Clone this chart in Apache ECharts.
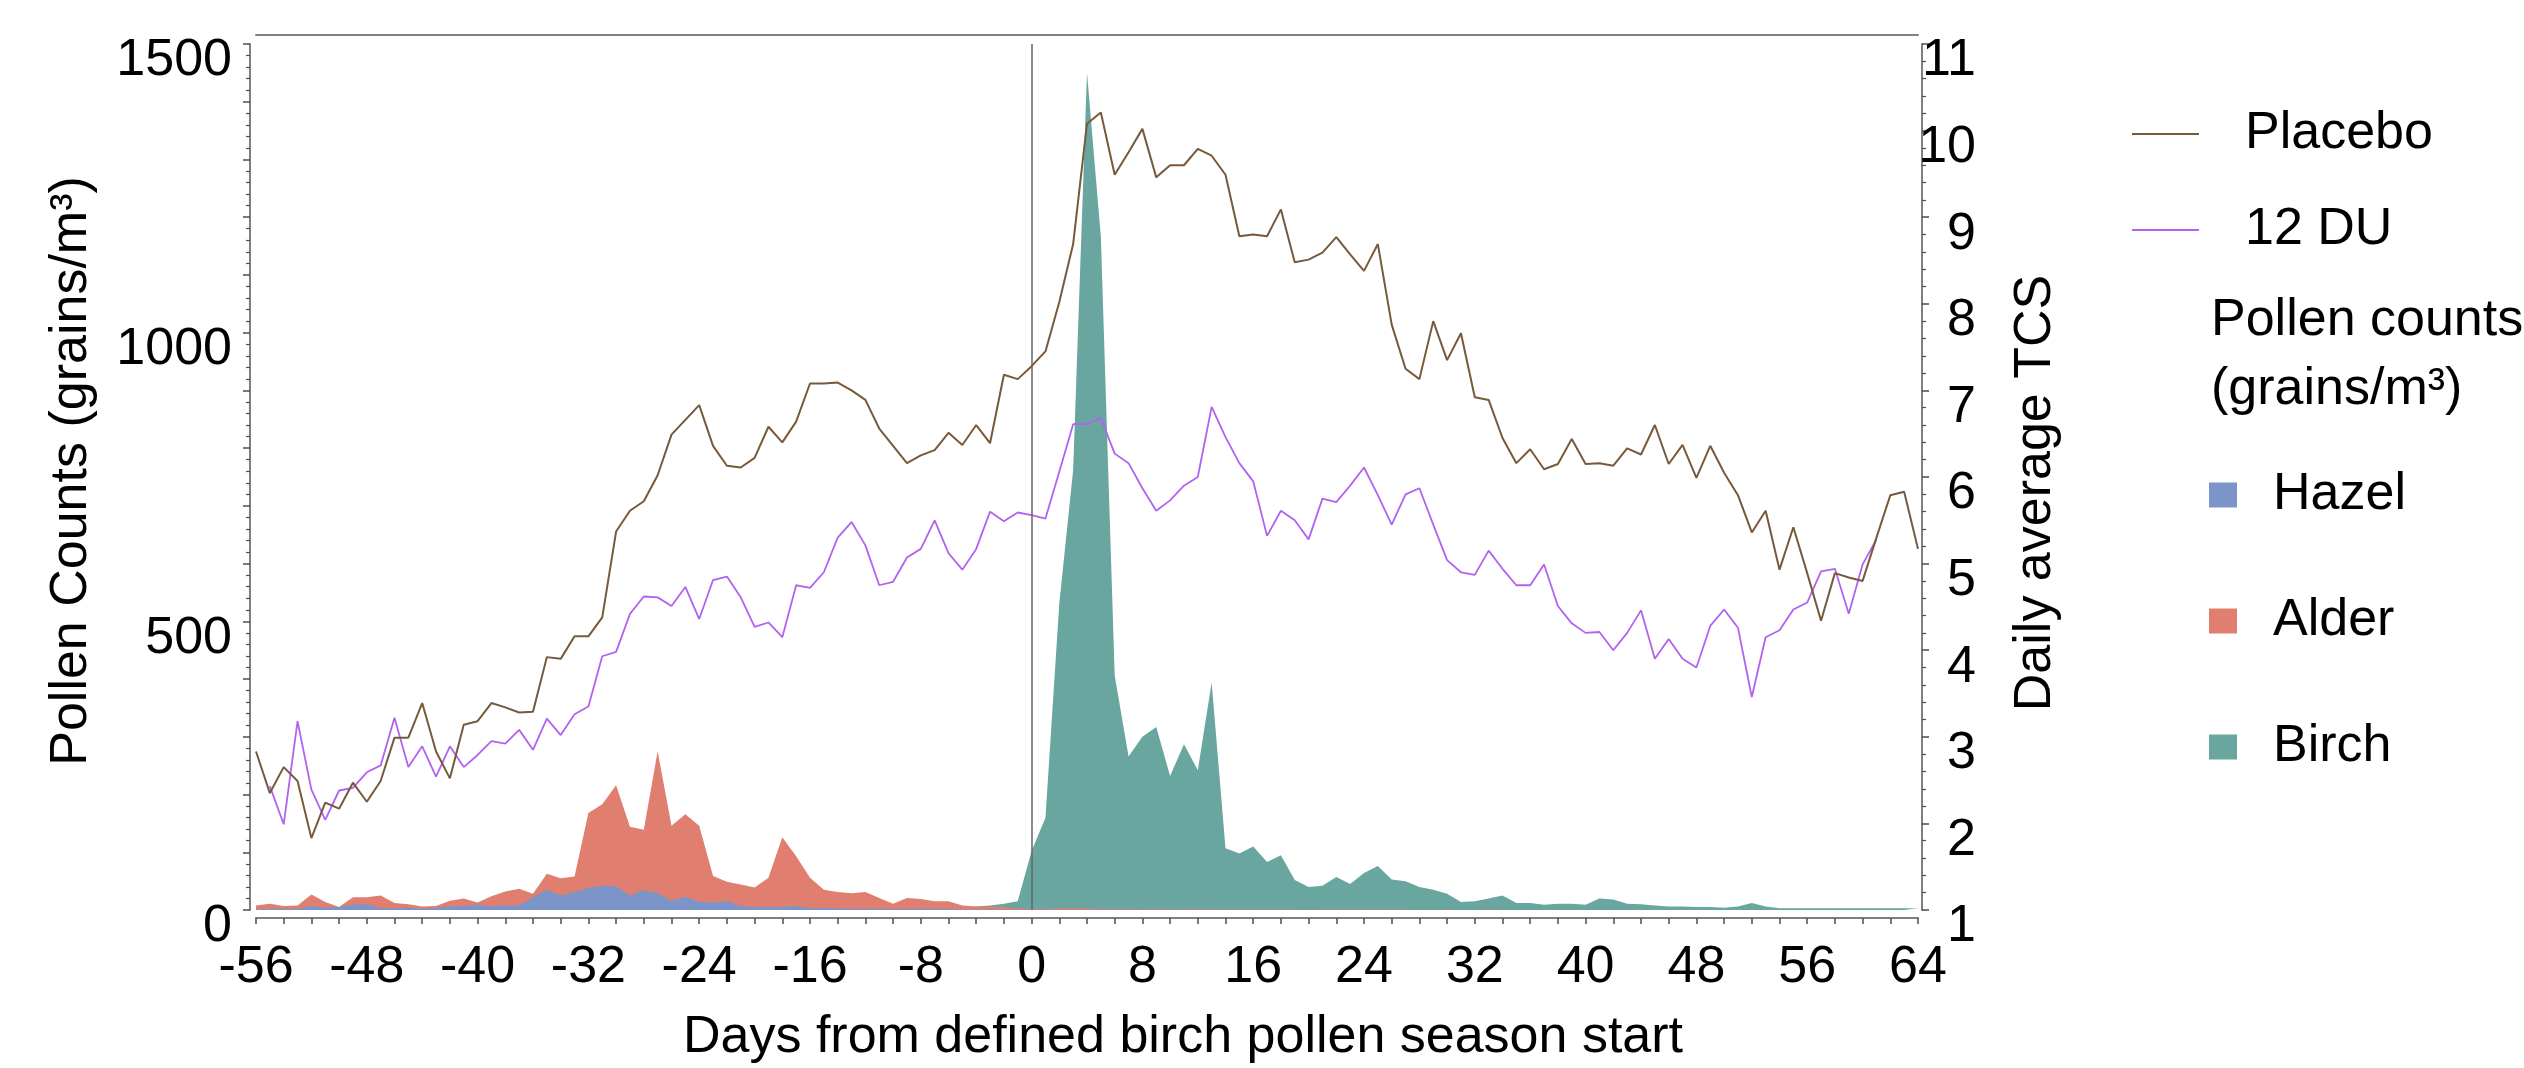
<!DOCTYPE html>
<html lang="en">
<head>
<meta charset="UTF-8">
<title>Pollen counts and daily average TCS</title>
<script src="https://cdn.jsdelivr.net/npm/echarts@6.0.0/dist/echarts.min.js"></script>
<style>
    body { margin: 0; background: #fff; }
    #chart { width: 2524px; height: 1068px; }
</style>
</head>
<body>
<div id="chart"></div>
<script>
    // day -56 is the first value of every array, one value per day up to day 64
    var firstDay = -56;

    // daily average TCS (right axis)
    var placebo = [
        2.83, 2.35, 2.65, 2.49, 1.83, 2.24, 2.17, 2.47, 2.25, 2.49,
        2.99, 2.99, 3.39, 2.83, 2.52, 3.14, 3.18, 3.39, 3.34, 3.28,
        3.29, 3.92, 3.90, 4.16, 4.16, 4.38, 5.37, 5.61, 5.72, 6.02,
        6.49, 6.66, 6.83, 6.36, 6.13, 6.11, 6.22, 6.58, 6.40, 6.64,
        7.08, 7.08, 7.09, 7.00, 6.89, 6.56, 6.36, 6.16, 6.25, 6.31,
        6.51, 6.37, 6.60, 6.39, 7.18, 7.13, 7.28, 7.45, 8.02, 8.69,
        10.08, 10.21, 9.49, 9.75, 10.02, 9.46, 9.60, 9.60, 9.79, 9.71,
        9.49, 8.78, 8.80, 8.78, 9.09, 8.48, 8.51, 8.59, 8.77, 8.57,
        8.38, 8.69, 7.76, 7.25, 7.13, 7.80, 7.35, 7.66, 6.92, 6.89,
        6.45, 6.16, 6.32, 6.09, 6.15, 6.44, 6.15, 6.16, 6.13, 6.33,
        6.26, 6.60, 6.15, 6.37, 5.99, 6.36, 6.05, 5.79, 5.36, 5.61,
        4.93, 5.42, 4.89, 4.34, 4.89, 4.84, 4.80, 5.30, 5.79, 5.83,
        5.17
    ];
    var du12 = [
        null, 2.43, 1.99, 3.18, 2.39, 2.04, 2.38, 2.41, 2.59, 2.67,
        3.22, 2.65, 2.89, 2.54, 2.89, 2.65, 2.79, 2.95, 2.92, 3.08,
        2.85, 3.21, 3.02, 3.26, 3.35, 3.93, 3.98, 4.42, 4.62, 4.61,
        4.51, 4.73, 4.36, 4.81, 4.85, 4.61, 4.27, 4.32, 4.15, 4.75,
        4.72, 4.90, 5.30, 5.48, 5.21, 4.75, 4.79, 5.07, 5.17, 5.50,
        5.12, 4.93, 5.17, 5.60, 5.49, 5.59, 5.56, 5.52, 6.06, 6.61,
        6.61, 6.68, 6.27, 6.16, 5.87, 5.61, 5.73, 5.90, 6.00, 6.81,
        6.46, 6.16, 5.95, 5.32, 5.61, 5.50, 5.28, 5.75, 5.71, 5.90,
        6.11, 5.79, 5.45, 5.80, 5.87, 5.45, 5.04, 4.90, 4.87, 5.15,
        4.94, 4.75, 4.75, 4.99, 4.51, 4.31, 4.20, 4.21, 4.00, 4.20,
        4.46, 3.90, 4.13, 3.90, 3.80, 4.28, 4.47, 4.26, 3.46, 4.15,
        4.23, 4.47, 4.55, 4.91, 4.94, 4.42, 4.99, 5.28, null, null,
        null
    ];

    // pollen counts, grains/m3 (left axis)
    var hazel = [
        1, 2, 2, 2, 7, 4, 5, 9, 10, 3,
        3, 4, 2, 4, 6, 7, 9, 6, 8, 8,
        22, 35, 25, 31, 38, 42, 41, 25, 34, 29,
        16, 23, 14, 13, 15, 7, 5, 5, 5, 7,
        3, 3, 3, 2, 2, 2, 2, 2, 2, 2,
        2, 1, 1, 1, 1, 1, 1, 1, 1, 1,
        1, 1, 1, 1, 0, 1, 0, 0, 1, 0,
        0, 0, 0, 0, 0, 0, 0, 0, 0, 0,
        0, 0, 0, 0, 0, 0, 0, 0, 0, 0,
        0, 0, 0, 0, 0, 0, 0, 0, 0, 0,
        0, 0, 0, 0, 0, 0, 0, 0, 0, 0,
        0, 0, 0, 0, 0, 0, 0, 0, 0, 0,
        0
    ];
    var alder = [
        8, 11, 7, 8, 27, 14, 5, 22, 22, 25,
        12, 10, 6, 7, 16, 20, 13, 24, 32, 37,
        28, 63, 55, 58, 168, 183, 216, 144, 139, 275,
        146, 166, 146, 59, 49, 44, 39, 56, 126, 93,
        56, 35, 31, 29, 31, 21, 11, 21, 19, 15,
        15, 8, 6, 6, 5, 3, 2, 2, 3, 4,
        3, 2, 2, 2, 1, 2, 1, 1, 2, 1,
        1, 1, 1, 1, 1, 1, 0, 1, 1, 1,
        1, 1, 1, 1, 0, 0, 1, 0, 0, 1,
        0, 0, 0, 0, 0, 0, 0, 0, 0, 0,
        0, 0, 0, 0, 0, 0, 0, 0, 0, 0,
        0, 0, 0, 0, 0, 0, 0, 0, 0, 0,
        0
    ];
    var birch = [
        0, 0, 0, 0, 0, 0, 0, 0, 0, 0,
        0, 0, 0, 0, 0, 0, 0, 0, 0, 0,
        0, 0, 0, 0, 0, 0, 0, 0, 0, 0,
        0, 0, 0, 0, 0, 0, 0, 0, 0, 0,
        0, 0, 0, 0, 0, 0, 0, 0, 0, 0,
        1, 3, 6, 8, 11, 15, 102, 160, 531, 762,
        1450, 1166, 406, 266, 300, 317, 232, 287, 242, 394,
        107, 98, 110, 83, 95, 52, 40, 42, 57, 45,
        64, 76, 53, 50, 40, 35, 28, 14, 15, 20,
        25, 12, 12, 9, 11, 11, 9, 20, 18, 11,
        10, 8, 6, 6, 5, 5, 4, 6, 12, 6,
        3, 3, 3, 3, 3, 3, 3, 3, 3, 3,
        3
    ];

    var font = "'Liberation Sans', Arial, sans-serif";
    var axisGray = '#808080';
    var tickGray = '#4d4d4d';

    function byDay(arr) {
        return arr.map(function (v, i) { return [firstDay + i, v]; });
    }

    function pollenArea(name, color, data, z) {
        return {
            name: name,
            type: 'line',
            xAxisIndex: 0,
            yAxisIndex: 0,
            data: byDay(data),
            symbol: 'none',
            color: color,
            lineStyle: { width: 0 },
            areaStyle: { color: color, opacity: 1 },
            z: z
        };
    }

    var chart = echarts.init(document.getElementById('chart'));

    var series = [
        pollenArea('Birch', '#68a69f', birch, 1),
        pollenArea('Alder', '#e07e6f', alder, 2),
        pollenArea('Hazel', '#7c95c9', hazel, 3),
        {
            name: '12 DU',
            type: 'line',
            xAxisIndex: 0,
            yAxisIndex: 1,
            data: byDay(du12),
            symbol: 'none',
            color: '#b163ef',
            lineStyle: { width: 1.8, color: '#b163ef' },
            z: 4
        },
        {
            name: 'Placebo',
            type: 'line',
            xAxisIndex: 0,
            yAxisIndex: 1,
            data: byDay(placebo),
            symbol: 'none',
            color: '#765a3b',
            lineStyle: { width: 2, color: '#765a3b' },
            z: 5
        }
    ];
    // season start marker
    series[0].markLine = {
        silent: true,
        symbol: 'none',
        label: { show: false },
        lineStyle: { color: '#666', width: 1.5, type: 'solid' },
        data: [{ xAxis: 0 }]
    };

    var option = {
        animation: false,
        backgroundColor: '#fff',
        textStyle: { fontFamily: font },
        grid: { left: 256, right: 606, top: 44, bottom: 158, outerBoundsMode: 'none' },
        title: {
            text: 'Pollen counts\n(grains/m³)',
            left: 2211,
            top: 286,
            padding: 0,
            textStyle: { fontFamily: font, fontSize: 52, fontWeight: 'normal', lineHeight: 69, color: '#000' }
        },
        legend: [
            {
                data: [{ name: 'Placebo', icon: 'rect' }, { name: '12 DU', icon: 'rect' }],
                orient: 'vertical',
                left: 2132,
                top: 104,
                padding: 0,
                itemWidth: 67,
                itemHeight: 2,
                itemGap: 36,
                textStyle: { fontFamily: font, fontSize: 52, lineHeight: 60, color: '#000', padding: [0, 0, 0, 41] }
            },
            {
                data: [{ name: 'Hazel', icon: 'rect' }, { name: 'Alder', icon: 'rect' }, { name: 'Birch', icon: 'rect' }],
                orient: 'vertical',
                left: 2209,
                top: 465,
                padding: 0,
                itemWidth: 28,
                itemHeight: 25,
                itemGap: 66,
                textStyle: { fontFamily: font, fontSize: 52, lineHeight: 60, color: '#000', padding: [0, 0, 0, 31] }
            }
        ],
        xAxis: [
            {
                type: 'value',
                min: -56,
                max: 64,
                interval: 2,
                offset: 8,
                axisLine: { onZero: false, lineStyle: { color: axisGray, width: 2 } },
                axisTick: { length: 6, lineStyle: { color: tickGray, width: 1.5 } },
                axisLabel: {
                    margin: 24,
                    fontSize: 52,
                    lineHeight: 52,
                    color: '#000',
                    formatter: function (v) { return v % 8 === 0 ? String(v) : ''; }
                },
                splitLine: { show: false },
                name: 'Days from defined birch pollen season start',
                nameLocation: 'middle',
                nameGap: 94,
                nameMoveOverlap: false,
                nameTextStyle: { fontSize: 52, lineHeight: 52, color: '#000', padding: [0, 0, 0, 192] }
            },
            {
                // top edge of the frame
                type: 'value',
                position: 'top',
                min: -56,
                max: 64,
                offset: 9,
                axisLine: { onZero: false, lineStyle: { color: axisGray, width: 2 } },
                axisTick: { show: false },
                axisLabel: { show: false },
                splitLine: { show: false }
            }
        ],
        yAxis: [
            {
                type: 'value',
                min: 0,
                max: 1500,
                interval: 100,
                offset: 6,
                axisLine: { show: true, onZero: false, lineStyle: { color: axisGray, width: 2 } },
                axisTick: { show: true, length: 7, lineStyle: { color: tickGray, width: 1.5 } },
                minorTick: { show: true, splitNumber: 5, length: 4, lineStyle: { color: tickGray, width: 1.2 } },
                axisLabel: {
                    margin: 18,
                    fontSize: 52,
                    lineHeight: 34,
                    verticalAlign: 'top',
                    color: '#000',
                    formatter: function (v) { return v % 500 === 0 ? String(v) : ''; }
                },
                splitLine: { show: false },
                name: 'Pollen Counts (grains/m³)',
                nameLocation: 'middle',
                nameGap: 152,
                nameMoveOverlap: false,
                nameTextStyle: { fontSize: 52, lineHeight: 52, color: '#000', padding: [0, 0, 0, 12] }
            },
            {
                type: 'value',
                position: 'right',
                min: 1,
                max: 11,
                interval: 1,
                offset: 4,
                axisLine: { show: true, onZero: false, lineStyle: { color: axisGray, width: 2 } },
                axisTick: { show: true, length: 7, lineStyle: { color: tickGray, width: 1.5 } },
                minorTick: { show: true, splitNumber: 5, length: 4, lineStyle: { color: tickGray, width: 1.2 } },
                axisLabel: {
                    margin: 54,
                    align: 'right',
                    fontSize: 52,
                    lineHeight: 34,
                    verticalAlign: 'top',
                    color: '#000'
                },
                splitLine: { show: false },
                name: 'Daily average TCS',
                nameLocation: 'middle',
                nameGap: 88,
                nameMoveOverlap: false,
                nameTextStyle: { fontSize: 52, lineHeight: 52, color: '#000', padding: [0, 32, 0, 0] }
            }
        ],
        series: series
    };

    chart.setOption(option);
</script>
</body>
</html>
